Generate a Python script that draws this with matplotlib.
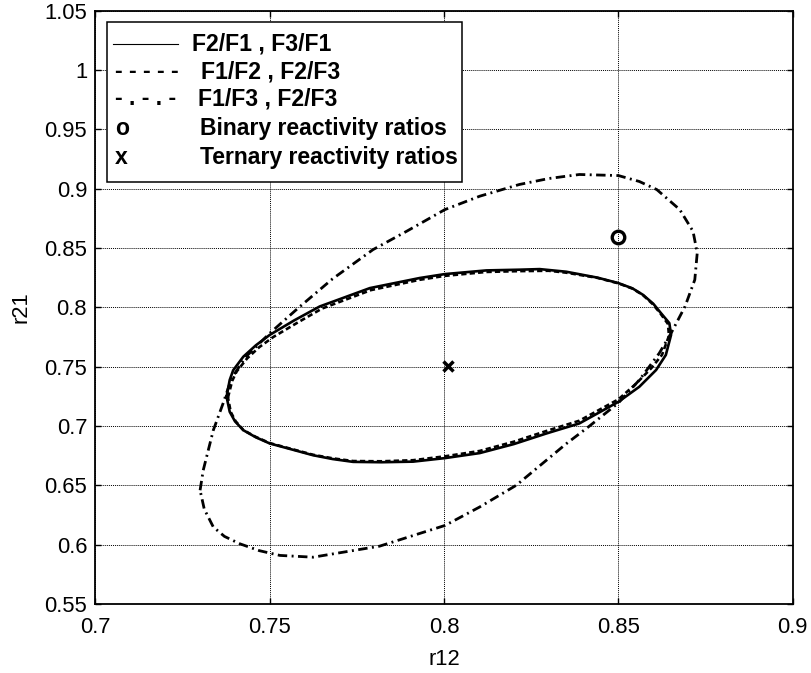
import numpy as np
from matplotlib import pyplot as plt
from matplotlib.patches import Rectangle
from matplotlib.lines import Line2D

plt.rcParams['font.family'] = ['Liberation Sans', 'DejaVu Sans']

# joint confidence contours, (r12, r21) pairs going round each loop
r12_f21_f31 = [0.7376, 0.7385, 0.7395, 0.7424, 0.7460, 0.7500, 0.7570, 0.7643,
               0.7787, 0.7930, 0.8002, 0.8121, 0.8216, 0.8274, 0.8350, 0.8440,
               0.8500, 0.8540, 0.8570, 0.8600, 0.8622, 0.8646, 0.8651, 0.8636,
               0.8608, 0.8560, 0.8500, 0.8388, 0.8293, 0.8200, 0.8102, 0.8003,
               0.7911, 0.7820, 0.7739, 0.7680, 0.7624, 0.7500, 0.7460, 0.7424,
               0.7400, 0.7385, 0.7376]
r21_f21_f31 = [0.7247, 0.7388, 0.7470, 0.7584, 0.7680, 0.7768, 0.7890, 0.8007,
               0.8162, 0.8247, 0.8280, 0.8311, 0.8317, 0.8322, 0.8300, 0.8250,
               0.8204, 0.8160, 0.8106, 0.8030, 0.7951, 0.7867, 0.7768, 0.7599,
               0.7472, 0.7331, 0.7204, 0.7022, 0.6937, 0.6848, 0.6772, 0.6730,
               0.6700, 0.6695, 0.6698, 0.6722, 0.6754, 0.6853, 0.6905, 0.6965,
               0.7040, 0.7120, 0.7247]

r12_f12_f23 = [0.7380, 0.7392, 0.7405, 0.7435, 0.7470, 0.7510, 0.7580, 0.7650,
               0.7790, 0.7930, 0.8002, 0.8121, 0.8216, 0.8300, 0.8350, 0.8440,
               0.8500, 0.8540, 0.8570, 0.8598, 0.8620, 0.8642, 0.8645, 0.8625,
               0.8595, 0.8550, 0.8500, 0.8388, 0.8293, 0.8200, 0.8102, 0.8003,
               0.7911, 0.7820, 0.7739, 0.7680, 0.7624, 0.7500, 0.7460, 0.7424,
               0.7402, 0.7388, 0.7380]
r21_f12_f23 = [0.7240, 0.7380, 0.7460, 0.7570, 0.7665, 0.7750, 0.7872, 0.7990,
               0.8145, 0.8232, 0.8265, 0.8298, 0.8305, 0.8308, 0.8292, 0.8248,
               0.8202, 0.8158, 0.8104, 0.8028, 0.7950, 0.7860, 0.7760, 0.7600,
               0.7490, 0.7355, 0.7225, 0.7045, 0.6958, 0.6868, 0.6790, 0.6745,
               0.6712, 0.6703, 0.6705, 0.6728, 0.6758, 0.6856, 0.6908, 0.6966,
               0.7040, 0.7118, 0.7240]

r12_f13_f23 = [0.7300, 0.7309, 0.7338, 0.7366, 0.7390, 0.7430, 0.7500, 0.7581,
               0.7680, 0.7796, 0.7892, 0.8002, 0.8102, 0.8216, 0.8300, 0.8388,
               0.8500, 0.8560, 0.8610, 0.8676, 0.8714, 0.8726, 0.8719, 0.8691,
               0.8651, 0.8617, 0.8560, 0.8500, 0.8417, 0.8350, 0.8207, 0.8102,
               0.8003, 0.7815, 0.7624, 0.7529, 0.7470, 0.7414, 0.7370, 0.7338,
               0.7312, 0.7300]
r21_f13_f23 = [0.6459, 0.6627, 0.6965, 0.7191, 0.7400, 0.7580, 0.7782, 0.7993,
               0.8240, 0.8486, 0.8640, 0.8823, 0.8936, 0.9035, 0.9085, 0.9119,
               0.9110, 0.9060, 0.8992, 0.8823, 0.8640, 0.8458, 0.8232, 0.8007,
               0.7782, 0.7613, 0.7388, 0.7195, 0.7000, 0.6850, 0.6501, 0.6318,
               0.6163, 0.5988, 0.5895, 0.5910, 0.5950, 0.6008, 0.6070, 0.6149,
               0.6300, 0.6459]

binary = (0.850, 0.859)
ternary = (0.801, 0.7506)

xticks = [0.7, 0.75, 0.8, 0.85, 0.9]
xticklabels = ['0.7', '0.75', '0.8', '0.85', '0.9']
yticks = [0.55, 0.6, 0.65, 0.7, 0.75, 0.8, 0.85, 0.9, 0.95, 1.0, 1.05]
yticklabels = ['0.55', '0.6', '0.65', '0.7', '0.75', '0.8', '0.85', '0.9',
               '0.95', '1', '1.05']

legend_rows = [('', 'F2/F1 , F3/F1'),
               ('- - - - -', 'F1/F2 , F2/F3'),
               ('- . - . -', 'F1/F3 , F2/F3'),
               ('o', 'Binary reactivity ratios'),
               ('x', 'Ternary reactivity ratios')]

fig = plt.figure(figsize=(8.12, 6.73), dpi=100)
ax = fig.add_axes([0.1176, 0.1024, 0.8587, 0.8819])

ax.plot(r12_f13_f23, r21_f13_f23, color='k', lw=2.0,
        linestyle=(0, (3.4, 1.6, 0.7, 1.6)))
ax.plot(r12_f21_f31, r21_f21_f31, 'k-', lw=1.9)
ax.plot(r12_f12_f23, r21_f12_f23, color='k', lw=1.9, linestyle=(0, (2, 1.2)))
ax.plot(*binary, 'o', ms=9, mfc='none', mec='k', mew=2.4)
ax.plot(*ternary, 'x', ms=7.5, mec='k', mew=2.5)

ax.set_xlim(0.7, 0.9)
ax.set_ylim(0.55, 1.05)
ax.set_xticks(xticks)
ax.set_xticklabels(xticklabels)
ax.set_yticks(yticks)
ax.set_yticklabels(yticklabels)
ax.tick_params(direction='in', top=True, right=True, length=4.5, width=1,
               labelsize=15.8)
ax.tick_params(axis='x', pad=9.5)
ax.tick_params(axis='y', pad=6)
ax.grid(True, color='k', linestyle=(0, (1, 1)), lw=0.7)
for s in ax.spines.values():
    s.set_linewidth(1.3)

ax.set_xlabel('r12', fontsize=15.8, labelpad=7.5)
ax.set_ylabel('r21', fontsize=15.8, labelpad=9)


def frac(px, py):
    # pixel position in the figure -> axes fraction
    return (px - 95.5) / 697.3, (604.1 - py) / 593.5


# legend box drawn by hand
x0, y1 = frac(106.7, 21.7)
x1, y0 = frac(461.7, 181.7)
ax.add_patch(Rectangle((x0, y0), x1 - x0, y1 - y0, transform=ax.transAxes,
                       facecolor='white', edgecolor='k', lw=1.1, zorder=5))
la, ly = frac(113, 44.3)
lb, _ = frac(178, 44.3)
ax.add_line(Line2D([la, lb], [ly, ly], transform=ax.transAxes, color='k',
                   lw=0.8, zorder=6))

baselines = [50.7, 78.3, 105.5, 135.0, 164.0]
label_x = [192, 201, 198, 200, 200]
for (sym, lab), base, lx in zip(legend_rows, baselines, label_x):
    if sym:
        sx, sy = frac(115, base)
        ax.text(sx, sy, sym, transform=ax.transAxes, fontsize=16.6,
                fontweight='bold', va='baseline', ha='left', zorder=6)
    tx, ty = frac(lx, base)
    ax.text(tx, ty, lab, transform=ax.transAxes, fontsize=16.6,
            fontweight='bold', va='baseline', ha='left', zorder=6)

plt.savefig('out.png', dpi=100)
